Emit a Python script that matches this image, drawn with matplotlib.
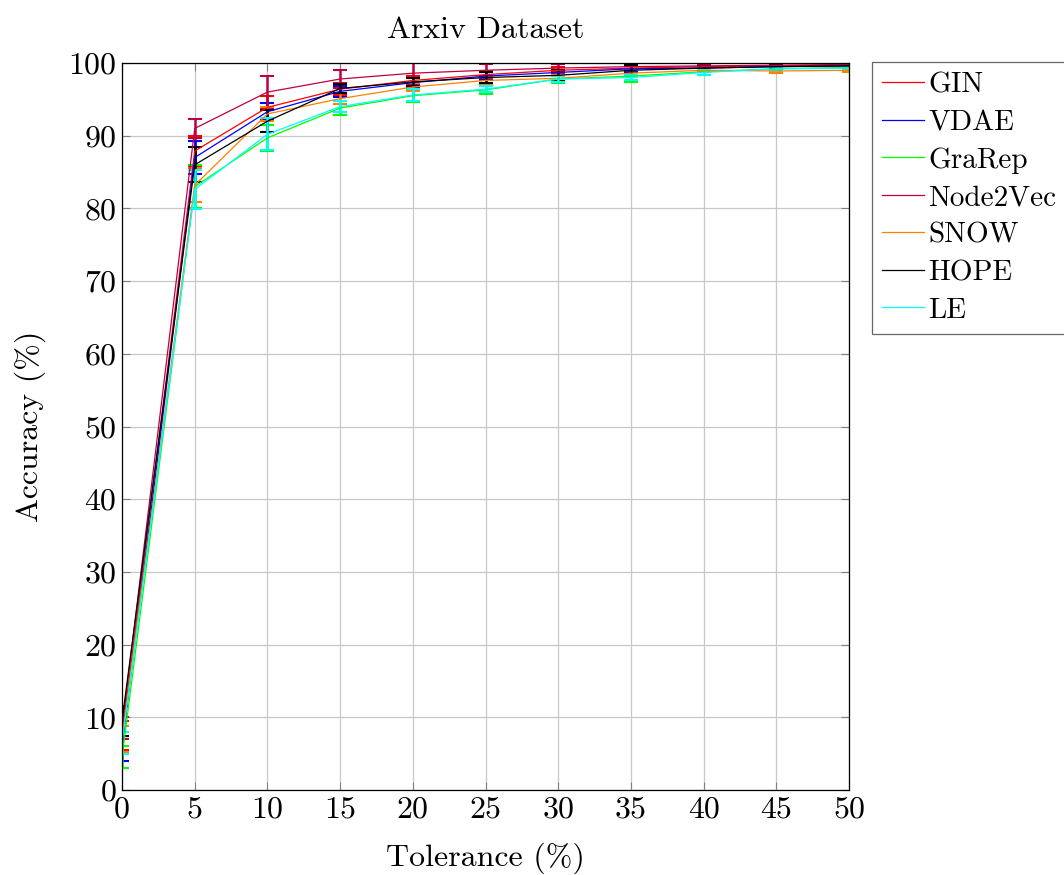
import numpy as np
import matplotlib
matplotlib.use('Agg')
import matplotlib.pyplot as plt
from matplotlib.lines import Line2D

plt.rcParams['font.family'] = ['cmr10', 'DejaVu Serif']
plt.rcParams['mathtext.fontset'] = 'cm'
plt.rcParams['axes.formatter.use_mathtext'] = True

tolerance = [0, 5, 10, 15, 20, 25, 30, 35, 40, 45, 50]

methods = ['GIN', 'VDAE', 'GraRep', 'Node2Vec', 'SNOW', 'HOPE', 'LE']
colors = ['#ff0000', '#0000ff', '#00ff00', '#bf0040', '#ff8000', '#000000', '#00ffff']

gin = [7.5, 87.9, 93.9, 96.4, 97.6, 98.4, 99.0, 99.3, 99.5, 99.6, 99.7]
gin_err = [2.0, 2.0, 1.5, 0.8, 0.6, 0.5, 0.4, 0.3, 0.3, 0.2, 0.2]
vdae = [6.0, 87.0, 93.3, 96.1, 97.3, 98.2, 98.7, 99.2, 99.3, 99.5, 99.6]
vdae_err = [2.0, 2.3, 1.2, 0.8, 0.6, 0.5, 0.4, 0.4, 0.3, 0.2, 0.2]
grarep = [4.5, 83.0, 89.7, 93.8, 95.5, 96.3, 97.8, 98.2, 98.8, 99.2, 99.4]
grarep_err = [1.5, 3.0, 1.8, 1.0, 0.8, 0.5, 0.5, 0.8, 0.4, 0.3, 0.2]
node2vec = [8.5, 91.0, 96.0, 97.8, 98.6, 99.0, 99.3, 99.5, 99.6, 99.7, 99.8]
node2vec_err = [1.5, 1.3, 2.2, 1.3, 1.6, 0.8, 0.5, 0.5, 0.3, 0.2, 0.2]
snow = [7.0, 83.2, 93.0, 95.1, 96.7, 97.6, 97.9, 98.6, 99.0, 98.9, 99.0]
snow_err = [1.8, 2.3, 1.0, 0.8, 0.6, 0.5, 0.4, 0.4, 0.3, 0.3, 0.3]
hope = [9.5, 86.0, 92.0, 96.5, 97.4, 98.0, 98.3, 99.0, 99.3, 99.5, 99.6]
hope_err = [2.0, 2.4, 1.5, 0.6, 0.6, 0.7, 0.8, 0.7, 0.3, 0.2, 0.2]
le = [6.5, 82.6, 90.2, 94.0, 95.6, 96.4, 97.8, 98.0, 98.7, 99.2, 99.3]
le_err = [1.5, 2.7, 2.2, 0.8, 0.8, 0.4, 0.4, 0.4, 0.3, 0.3, 0.2]

values = [gin, vdae, grarep, node2vec, snow, hope, le]
errors = [gin_err, vdae_err, grarep_err, node2vec_err, snow_err, hope_err, le_err]

fig = plt.figure(figsize=(10.64, 8.75), dpi=100)
ax = fig.add_axes([0.1147, 0.0971, 0.6833, 0.8309])

for name, c, v, e in zip(methods, colors, values, errors):
    ax.errorbar(tolerance, v, yerr=e, color=c, lw=0.9, elinewidth=1.8,
                capsize=5, capthick=1.5)

ax.set_xlim(0, 50)
ax.set_ylim(0, 100)
ax.set_xticks(tolerance)
ax.set_xticklabels([str(t) for t in tolerance])
ax.set_yticks(range(0, 101, 10))
ax.set_yticklabels([str(t) for t in range(0, 101, 10)])
ax.grid(True, color='#c8c8c8', lw=0.9)
ax.set_axisbelow(True)
ax.tick_params(direction='in', length=6, color='#808080', labelsize=23,
               top=True, right=True, pad=4)
for s in ax.spines.values():
    s.set_linewidth(0.9)

ax.set_title('Arxiv Dataset', fontsize=23, pad=18)
ax.set_xlabel('Tolerance (%)', fontsize=23, labelpad=14)
ax.set_ylabel('Accuracy (%)', fontsize=23, labelpad=16)

handles = [Line2D([], [], color=c, lw=0.9) for c in colors]
leg = ax.legend(handles, methods, loc='upper left', bbox_to_anchor=(1.031, 1.0015),
                fontsize=21, frameon=True, fancybox=False, edgecolor='#404040',
                handlelength=1.45, handletextpad=0.15, labelspacing=0.38,
                borderpad=0.35, borderaxespad=0)
leg.get_frame().set_linewidth(0.9)

fig.savefig('out.png', dpi=100)
